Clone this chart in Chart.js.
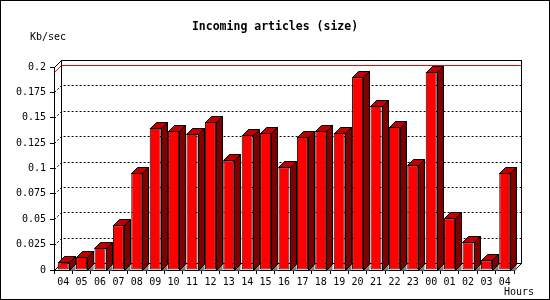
<!DOCTYPE html>
<html>
<head>
<meta charset="utf-8">
<script src="https://cdn.jsdelivr.net/npm/chart.js@4.4.0/dist/chart.umd.min.js"></script>
<style>
body { margin: 0; background: #fff; }
canvas { display: block; }
</style>
</head>
<body>
<canvas id="grafico" width="550" height="300"></canvas>
<script>
const horas = ['04', '05', '06', '07', '08', '09', '10', '11', '12', '13', '14', '15', '16',
               '17', '18', '19', '20', '21', '22', '23', '00', '01', '02', '03', '04'];
const kbPorSeg = [0.0076, 0.0128, 0.0217, 0.044, 0.0956, 0.140, 0.137, 0.134, 0.146, 0.108,
                  0.133, 0.135, 0.101, 0.131, 0.137, 0.135, 0.190, 0.1616, 0.141, 0.103,
                  0.195, 0.051, 0.0273, 0.0096, 0.0956];
const rotulosY = ['0', '0.025', '0.05', '0.075', '0.1', '0.125', '0.15', '0.175', '0.2'];

const titulo = 'Incoming articles (size)';
const unidade = 'Kb/sec';
const eixoX = 'Hours';

const fonte = "'DejaVu Sans Mono', monospace";
const prof = 7;      // profundidade da parede
const profBarra = 6; // profundidade das barras

function px(v) { return Math.round(v) + 0.5; }

const efeito3d = {
    id: 'efeito3d',
    beforeDatasetsDraw(chart) {
        const { ctx, chartArea: a, scales: { y } } = chart;
        const esq = px(a.left), dir = px(a.right), topo = px(a.top), base = px(a.bottom);
        ctx.save();
        ctx.lineWidth = 1;

        // linhas pontilhadas na parede do fundo
        ctx.strokeStyle = '#000';
        ctx.setLineDash([2, 2]);
        rotulosY.forEach(r => {
            const v = parseFloat(r);
            if (v === 0 || v === 0.2) return;
            const yy = px(y.getPixelForValue(v));
            ctx.beginPath();
            ctx.moveTo(esq, yy);
            ctx.lineTo(esq + prof, yy - prof);
            ctx.lineTo(dir + prof, yy - prof);
            ctx.stroke();
        });
        ctx.setLineDash([]);

        // linha do maximo
        const maximo = Math.max(...kbPorSeg);
        const ym = px(y.getPixelForValue(maximo));
        ctx.strokeStyle = '#ff0000';
        ctx.beginPath();
        ctx.moveTo(esq, ym);
        ctx.lineTo(esq + prof, ym - prof);
        ctx.lineTo(dir + prof, ym - prof);
        ctx.stroke();

        // contorno da parede
        ctx.strokeStyle = '#000';
        ctx.strokeRect(esq + prof, topo - prof, dir - esq, base - topo);
        ctx.beginPath();
        ctx.moveTo(esq, topo); ctx.lineTo(esq + prof, topo - prof);
        ctx.moveTo(esq, base); ctx.lineTo(esq + prof, base - prof);
        ctx.moveTo(dir, base); ctx.lineTo(dir + prof, base - prof);
        ctx.stroke();
        ctx.restore();
    },
    afterDatasetsDraw(chart) {
        const { ctx } = chart;
        const meta = chart.getDatasetMeta(0);
        const d = profBarra;
        ctx.save();
        ctx.lineWidth = 1;
        ctx.strokeStyle = '#000';
        meta.data.forEach(barra => {
            const esq = px(barra.x - barra.width / 2);
            const dir = px(barra.x + barra.width / 2);
            const topo = px(barra.y);
            const base = px(barra.base);

            // sombra no chao
            ctx.fillStyle = '#808080';
            ctx.beginPath();
            ctx.moveTo(dir, base);
            ctx.lineTo(dir + d, base - d);
            ctx.lineTo(dir + d, base);
            ctx.closePath();
            ctx.fill();

            // lado
            ctx.fillStyle = '#800000';
            ctx.beginPath();
            ctx.moveTo(dir, base);
            ctx.lineTo(dir, topo);
            ctx.lineTo(dir + d, topo - d);
            ctx.lineTo(dir + d, base - d);
            ctx.closePath();
            ctx.fill();
            ctx.stroke();

            // topo
            ctx.fillStyle = '#c00000';
            ctx.beginPath();
            ctx.moveTo(esq, topo);
            ctx.lineTo(esq + d, topo - d);
            ctx.lineTo(dir + d, topo - d);
            ctx.lineTo(dir, topo);
            ctx.closePath();
            ctx.fill();
            ctx.stroke();
        });
        ctx.restore();
    },
    afterDraw(chart) {
        const { ctx } = chart;
        ctx.save();
        ctx.fillStyle = '#000';
        ctx.font = 'bold 11.5px ' + fonte;
        ctx.textAlign = 'center';
        ctx.textBaseline = 'middle';
        ctx.fillText(titulo, 275, 27);

        ctx.font = '10px ' + fonte;
        ctx.textAlign = 'left';
        ctx.textBaseline = 'top';
        ctx.fillText(unidade, 30, 32);
        ctx.fillText(eixoX, 504, 287);

        ctx.strokeStyle = '#000';
        ctx.lineWidth = 1;
        ctx.strokeRect(0.5, 0.5, 549, 299);
        ctx.restore();
    }
};

new Chart(document.getElementById('grafico'), {
    type: 'bar',
    data: {
        labels: horas,
        datasets: [{
            data: kbPorSeg,
            backgroundColor: '#ff0000',
            borderColor: '#000',
            borderWidth: 1,
            borderSkipped: false,
            categoryPercentage: 1,
            barPercentage: 0.6
        }]
    },
    options: {
        responsive: false,
        animation: false,
        events: [],
        layout: { padding: { top: 67, right: 36, left: 0, bottom: 0 } },
        plugins: {
            legend: { display: false },
            title: { display: false },
            tooltip: { enabled: false }
        },
        scales: {
            x: {
                grid: { drawOnChartArea: false, tickLength: 4, color: '#000', offset: true },
                border: { color: '#000' },
                ticks: { color: '#000', font: { family: fonte, size: 10 }, padding: 2, autoSkip: false, maxRotation: 0 },
                afterFit(s) { s.height = 30; }
            },
            y: {
                min: 0,
                max: 0.2,
                grid: { drawOnChartArea: false, tickLength: 4, color: '#000' },
                border: { color: '#000' },
                ticks: {
                    stepSize: 0.025,
                    color: '#000',
                    font: { family: fonte, size: 10 },
                    padding: 4,
                    callback: v => rotulosY.find(r => Math.abs(parseFloat(r) - v) < 1e-6)
                },
                afterFit(s) { s.width = 54; }
            }
        }
    },
    plugins: [efeito3d]
});
</script>
</body>
</html>
